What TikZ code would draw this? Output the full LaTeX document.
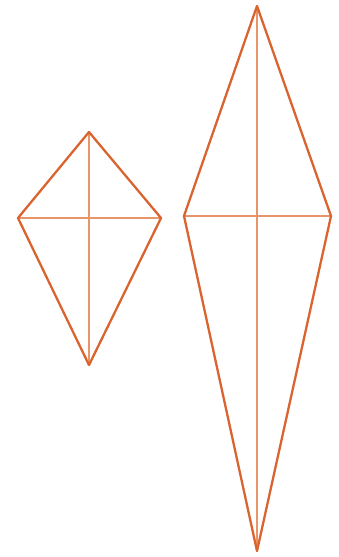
\documentclass[tikz,border=0pt]{standalone}
\definecolor{kiteorange}{RGB}{218,100,48}
\definecolor{kitelight}{RGB}{232,150,105}
\tikzset{
  outline/.style={draw=kiteorange, line width=2.3pt, line join=round},
  diag/.style={draw=kitelight, line width=1.4pt}
}
\begin{document}
\begin{tikzpicture}[x=1pt,y=-1pt]
\useasboundingbox (0,0) rectangle (339,557);
% small kite
\coordinate (sT) at (89,132);
\coordinate (sL) at (18,218);
\coordinate (sR) at (161,218);
\coordinate (sB) at (89,365);
% large kite
\coordinate (lT) at (257,6);
\coordinate (lL) at (184,216);
\coordinate (lR) at (331,216);
\coordinate (lB) at (257,551);
\draw[diag] (sT) -- (sB);
\draw[diag] (sL) -- (sR);
\draw[diag] (lT) -- (lB);
\draw[diag] (lL) -- (lR);
\draw[outline] (sT) -- (sR) -- (sB) -- (sL) -- cycle;
\draw[outline] (lT) -- (lR) -- (lB) -- (lL) -- cycle;
\end{tikzpicture}
\end{document}
